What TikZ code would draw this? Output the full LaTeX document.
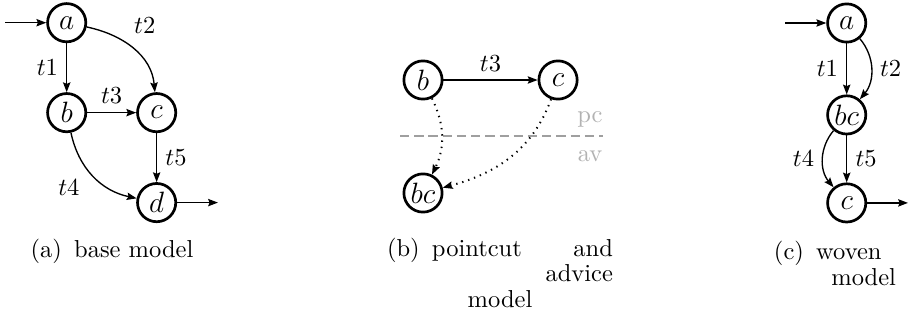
\documentclass[tikz,border=0pt]{standalone}
\usepackage{amsmath,amssymb}
\usepackage{xcolor}
\usetikzlibrary{arrows.meta,positioning}
\tikzset{
  state/.style={draw, circle, line width=1.1pt, minimum size=15.6pt, inner sep=0.5pt, font=\large},
  line/.style={-{Stealth[length=4pt, width=3pt, inset=0.6pt]}, line width=0.55pt},
  joinline/.style={line, dotted, line width=0.8pt},
  cutline/.style={dash pattern=on 3.8pt off 2pt, line width=0.7pt, draw=gray!75},
  cutlabel/.style={text=gray!60, inner sep=0pt},
  caption/.style={inner sep=0pt, align=left, font=\fontsize{10}{10.4}\selectfont}
}

\begin{document}
\begin{tikzpicture}[x=0.408pt, y=-0.408pt, node distance=36.7pt, on grid, auto]
  \useasboundingbox (0,0) rectangle (909,324);

  % (a) base model
  \node[state] (a1) at (66.7,22.7) {$a$};
  \node[state, below=of a1] (b1) {$b$};
  \node[state, right=of b1] (c1) {$c$};
  \node[state, below=of c1] (d1) {$d$};
  \coordinate (in1) at (5,22.7);
  \coordinate[right=25pt of d1] (out1);
  \draw[line] (in1) -- (a1);
  \draw[line] (a1) -- node[swap] {$t1$} (b1);
  \draw[line] (a1) to[out=-12, in=95] node[pos=0.4] {$t2$} (c1);
  \draw[line] (b1) -- node {$t3$} (c1);
  \draw[line] (b1) to[out=-78, in=168] node[swap, pos=0.42] {$t4$} (d1);
  \draw[line] (c1) -- node {$t5$} (d1);
  \draw[line] (d1) -- (out1);
  \node[caption] (capa) at (112,251) {(a)\enspace base model};

  % (b) pointcut and advice model
  \node[state] (b2) at (423,80) {$b$};
  \node[state, right=55.1pt of b2] (c2) {$c$};
  \node[state, below=46.1pt of b2] (bc2) {$bc$};
  \coordinate (cutl) at (400,136);
  \coordinate (cutr) at (603,136);
  \draw[cutline] (cutl) -- (cutr);
  \node[cutlabel] (pc) at (590,119) {pc};
  \node[cutlabel] (av) at (590,156) {av};
  \draw[line] (b2) -- node {$t3$} (c2);
  \draw[joinline] (b2) to[bend left=26] (bc2);
  \draw[joinline] (c2) to[out=-110, in=15] (bc2);
  \node[caption, text width=92.2pt] (capb) at (500,272.5)
    {(b)\enspace pointcut\hfill and\\ \mbox{}\hfill advice\\ \mbox{}\hfill model\hfill\mbox{}};

  % (c) woven model
  \node[state] (a3) at (846.7,23) {$a$};
  \node[state, below=37.5pt of a3] (bc3) {$bc$};
  \node[state, below=35.9pt of bc3] (c3) {$c$};
  \coordinate (in3) at (785,23);
  \coordinate[right=25pt of c3] (out3);
  \draw[line] (in3) -- (a3);
  \draw[line] (a3) -- node[swap] {$t1$} (bc3);
  \draw[line] (a3) to[bend left=40] node {$t2$} (bc3);
  \draw[line] (bc3) -- node {$t5$} (c3);
  \draw[line] (bc3) to[bend right=40] node[swap] {$t4$} (c3);
  \draw[line] (c3) -- (out3);
  \node[caption, text width=49.8pt] (capc) at (835,263.5)
    {(c)\enspace woven\\ \mbox{}\hfill model};
\end{tikzpicture}
\end{document}
